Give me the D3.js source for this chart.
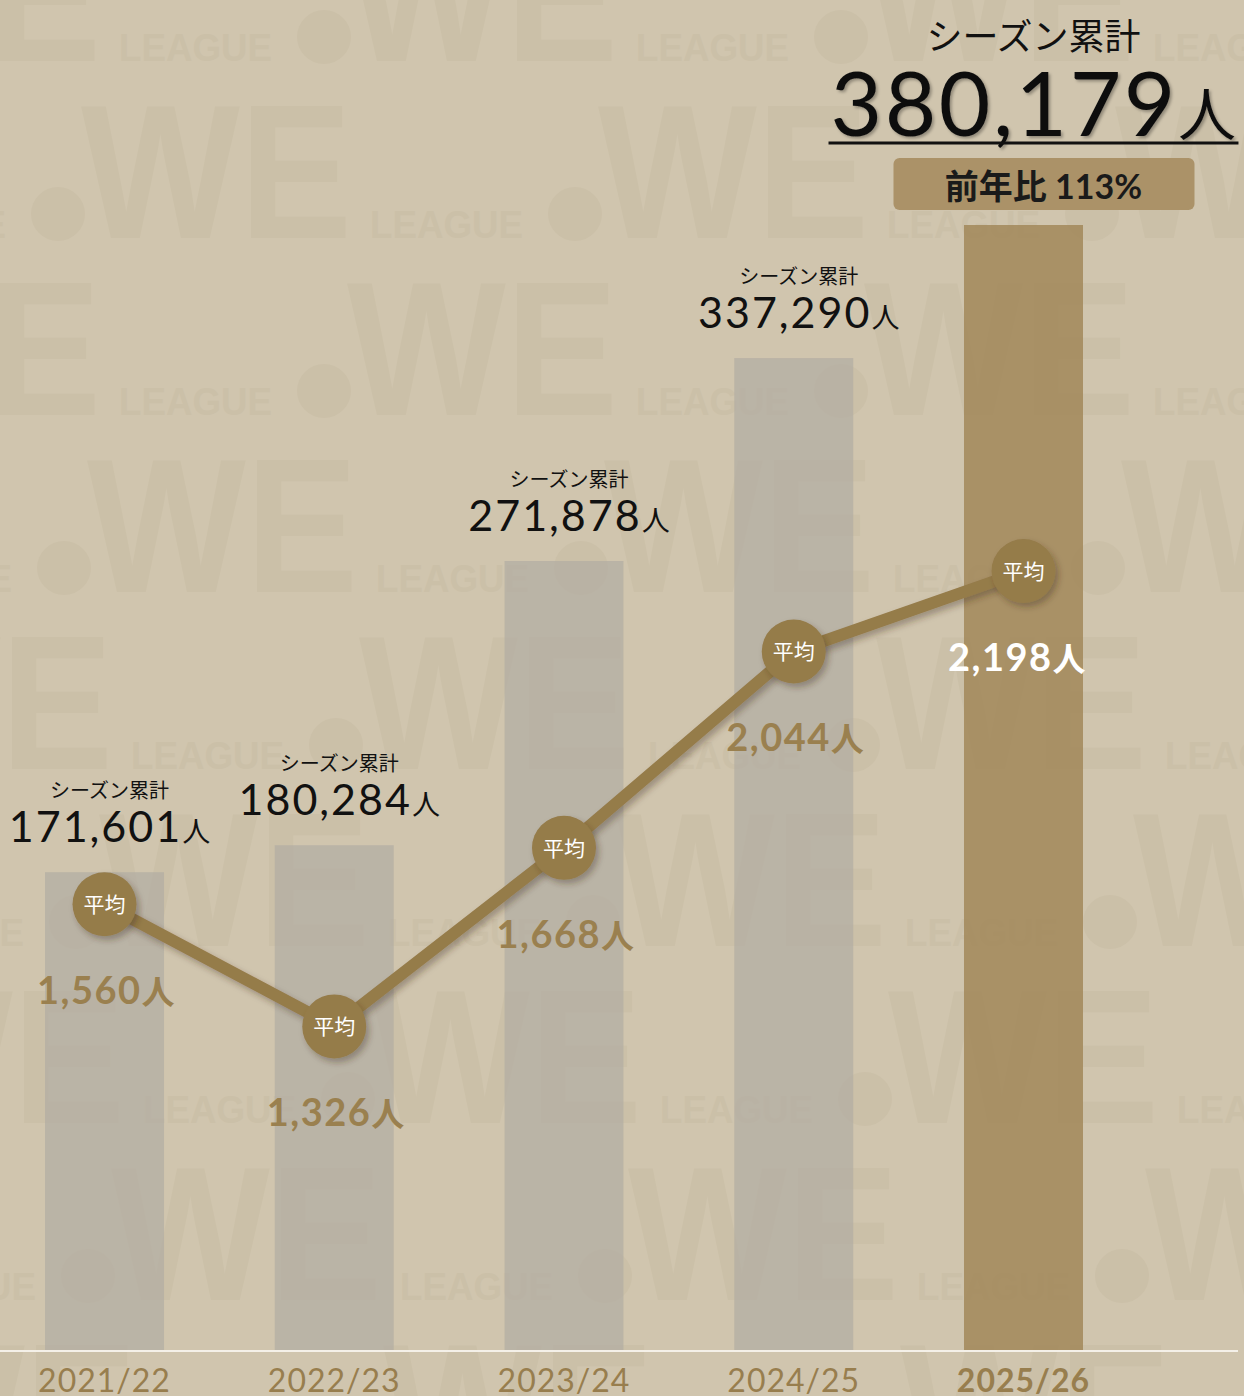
<!DOCTYPE html>
<html>
<head>
  <meta charset="UTF-8">
  <title>WE LEAGUE 観客数</title>
  <script src="https://cdn.jsdelivr.net/npm/d3@7"></script>
  <style>
    body { margin: 0; background: #d0c5ae; }
    svg { display: block; }
  </style>
</head>
<body>
<script>
  // data
  const seasons = ["2021/22", "2022/23", "2023/24", "2024/25", "2025/26"];
  const totals = [171601, 180284, 271878, 337290, 380179];
  const averages = [1560, 1326, 1668, 2044, 2198];

  const w = 1244;
  const h = 1396;
  const base = 1350;
  const numFont = "Lato, 'Noto Sans CJK JP', sans-serif";
  const jpFont = "'Noto Sans CJK JP', sans-serif";
  const last = seasons.length - 1;

  const svg = d3.select("body").append("svg")
    .attr("width", w)
    .attr("height", h);

  const defs = svg.append("defs");
  const shadow = defs.append("filter").attr("id", "shadow")
    .attr("x", "-30%").attr("y", "-30%").attr("width", "170%").attr("height", "170%");
  shadow.append("feDropShadow")
    .attr("dx", 3).attr("dy", 4).attr("stdDeviation", 3)
    .attr("flood-color", "#3a2e18").attr("flood-opacity", 0.35);
  const textShadow = defs.append("filter").attr("id", "textShadow");
  textShadow.append("feDropShadow")
    .attr("dx", 2).attr("dy", 2).attr("stdDeviation", 1.5)
    .attr("flood-color", "#000").attr("flood-opacity", 0.3);

  svg.append("rect").attr("width", w).attr("height", h).attr("fill", "#d0c5ae");

  // watermark rows of "●WE LEAGUE"
  const mark = svg.append("g").attr("fill", "#cbc0a8");
  for (let i = 0; i < 9; i++) {
    const by = 61 + i * 177;
    const x0 = (i % 2 === 0 ? -193 : 58) + Math.max(0, i - 2) * 6;
    for (let k = -1; k < 4; k++) {
      const cx = x0 + k * 517;
      mark.append("circle").attr("cx", cx).attr("cy", by - 24).attr("r", 27);
      mark.append("text")
        .attr("x", cx + 23).attr("y", by)
        .attr("textLength", 271).attr("lengthAdjust", "spacingAndGlyphs")
        .style("font", "bold 191px 'Liberation Sans', sans-serif")
        .text("WE");
      mark.append("text")
        .attr("x", cx + 312).attr("y", by)
        .attr("textLength", 153).attr("lengthAdjust", "spacingAndGlyphs")
        .style("font", "bold 39px 'Liberation Sans', sans-serif")
        .text("LEAGUE");
    }
  }

  const xScale = d3.scaleBand()
    .domain(seasons)
    .range([45, 1083])
    .paddingInner(0.482);

  const yScale = d3.scaleLinear()
    .domain([17600, 380179])
    .range([base, 225]);

  const avgScale = d3.scaleLinear()
    .domain([1300, 2200])
    .range([1040, 570]);

  const cx = (d, i) => xScale(seasons[i]) + xScale.bandwidth() / 2;

  // bars
  svg.selectAll("rect.bar")
    .data(totals)
    .enter()
    .append("rect")
    .attr("class", "bar")
    .attr("x", (d, i) => xScale(seasons[i]))
    .attr("y", d => yScale(d))
    .attr("width", xScale.bandwidth())
    .attr("height", d => base - yScale(d))
    .attr("fill", (d, i) => i === last ? "#a58c5f" : "#b3ada3")
    .attr("opacity", (d, i) => i === last ? 0.92 : 0.75);

  // baseline + season labels
  svg.append("line")
    .attr("x1", 0).attr("x2", 1238)
    .attr("y1", base + 1).attr("y2", base + 1)
    .attr("stroke", "#f4f0e8").attr("stroke-width", 2);

  const xAxis = d3.axisBottom(xScale).tickSize(0);
  const axisG = svg.append("g")
    .attr("transform", "translate(0," + base + ")")
    .call(xAxis);
  axisG.select(".domain").remove();
  axisG.selectAll("text")
    .attr("y", 42).attr("dy", 0)
    .style("font-family", numFont)
    .style("font-size", "32px")
    .style("letter-spacing", "1px")
    .style("font-weight", (d, i) => i === last ? 700 : 400)
    .attr("fill", "#987e4e");

  // season totals (past seasons)
  const totalG = svg.selectAll("g.total")
    .data(totals.slice(0, last))
    .enter()
    .append("g")
    .attr("class", "total")
    .attr("text-anchor", "middle")
    .attr("fill", "#111");
  totalG.append("text")
    .attr("x", (d, i) => cx(d, i) + 5)
    .attr("y", d => yScale(d) - 74)
    .style("font-family", jpFont)
    .style("font-size", "20px")
    .text("シーズン累計");
  const totalText = totalG.append("text")
    .attr("x", (d, i) => cx(d, i) + 6)
    .attr("y", d => yScale(d) - 30)
    .style("font-family", numFont)
    .style("font-size", "43px")
    .style("letter-spacing", "2px");
  totalText.append("tspan").text(d => d3.format(",")(d));
  totalText.append("tspan").style("font-family", jpFont).style("font-size", "28px").text("人");

  // current season headline
  const topX = cx(totals[last], last) + 12;
  const head = svg.append("g").attr("text-anchor", "middle").attr("fill", "#111");
  head.append("text")
    .attr("x", topX - 2).attr("y", 50)
    .style("font-family", jpFont)
    .style("font-size", "36px")
    .text("シーズン累計");
  const big = head.append("text")
    .attr("x", topX - 1).attr("y", 136)
    .attr("filter", "url(#textShadow)")
    .style("font-family", numFont)
    .style("font-size", "89px")
    .style("letter-spacing", "2.5px");
  big.append("tspan").text(d3.format(",")(totals[last]));
  big.append("tspan").style("font-family", jpFont).style("font-size", "58px").text("人");
  const bb = big.node().getBBox();
  head.append("line")
    .attr("x1", bb.x - 2).attr("x2", bb.x + bb.width)
    .attr("y1", 143).attr("y2", 143)
    .attr("stroke", "#111").attr("stroke-width", 3);

  const ratio = Math.round(totals[last] / totals[last - 1] * 100);
  head.append("rect")
    .attr("x", topX - 142).attr("y", 158)
    .attr("width", 301).attr("height", 52).attr("rx", 6)
    .attr("fill", "#ab9268");
  head.append("text")
    .attr("x", topX + 8).attr("y", 199)
    .style("font-family", numFont)
    .style("font-size", "34px")
    .style("font-weight", 700)
    .attr("fill", "#1a1a1a")
    .text("前年比 " + ratio + "%");

  // average line
  const line = d3.line()
    .x((d, i) => cx(d, i))
    .y(d => avgScale(d));
  svg.append("path")
    .datum(averages)
    .attr("d", line)
    .attr("fill", "none")
    .attr("stroke", "#957b4a")
    .attr("stroke-width", 12)
    .attr("filter", "url(#shadow)");

  const dots = svg.selectAll("g.avg")
    .data(averages)
    .enter()
    .append("g")
    .attr("class", "avg");
  dots.append("circle")
    .attr("cx", cx)
    .attr("cy", d => avgScale(d))
    .attr("r", 32)
    .attr("fill", "#957b4a")
    .attr("filter", "url(#shadow)");
  dots.append("text")
    .attr("x", cx)
    .attr("y", d => avgScale(d) + 8)
    .attr("text-anchor", "middle")
    .attr("fill", "#fff")
    .style("font-family", jpFont)
    .style("font-size", "21px")
    .text("平均");

  const avgText = dots.append("text")
    .attr("x", (d, i) => cx(d, i) + (i === last ? -6 : 2))
    .attr("y", d => avgScale(d) + 100)
    .attr("text-anchor", "middle")
    .attr("fill", (d, i) => i === last ? "#fff" : "#9a804f")
    .style("font-family", numFont)
    .style("font-size", "38px")
    .style("letter-spacing", "1.5px")
    .style("font-weight", 700);
  avgText.append("tspan").text(d => d3.format(",")(d));
  avgText.append("tspan").style("font-family", jpFont).style("font-size", "33px").text("人");
</script>
</body>
</html>
